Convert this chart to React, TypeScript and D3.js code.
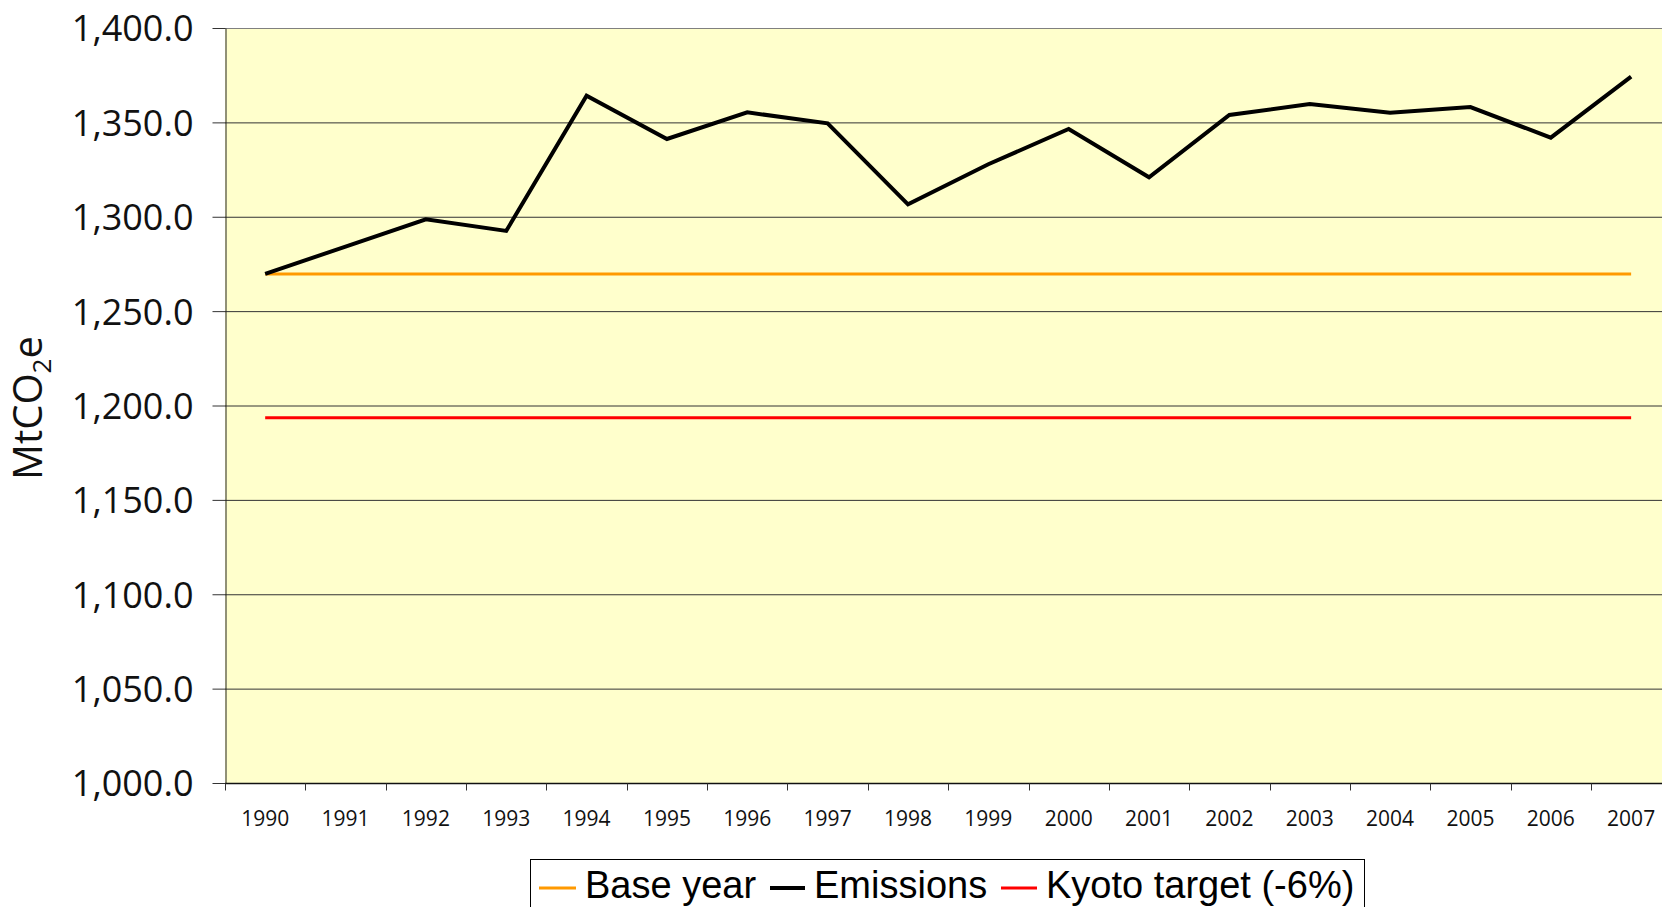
import React, { useRef, useEffect } from "react";
import * as d3 from "d3";

// data
const years = [
  "1990", "1991", "1992", "1993", "1994", "1995", "1996", "1997", "1998",
  "1999", "2000", "2001", "2002", "2003", "2004", "2005", "2006", "2007",
];
const emissions = [
  1269.7, 1284.2, 1298.6, 1292.5, 1364.1, 1341.2, 1355.3, 1349.5, 1306.6,
  1327.8, 1346.5, 1320.9, 1353.9, 1359.7, 1355.1, 1358.1, 1341.9, 1374.2,
];
const baseYear = 1269.7;
const kyotoTarget = 1193.5;
const yTicks = [1000, 1050, 1100, 1150, 1200, 1250, 1300, 1350, 1400];

const App = () => {
  const svgRef = useRef<SVGSVGElement>(null);

  useEffect(() => {
    const svg = d3.select(svgRef.current);
    svg.selectAll("*").remove();
    const width = 1662;
    const left = 225;
    const top = 28;
    const bottom = 783;

    const x = d3.scaleBand().domain(years).range([left, left + 18 * 80.35]);
    const y = d3.scaleLinear().domain([1000, 1400]).range([bottom, top]);
    const cx = (d: string) => (x(d) as number) + x.bandwidth() / 2;

    // plot background
    svg.append("rect")
      .attr("x", left).attr("y", top)
      .attr("width", width - left).attr("height", bottom - top)
      .attr("fill", "#FFFFCC");

    // gridlines
    svg.append("g")
      .selectAll("line")
      .data(yTicks.filter((d) => d > 1000))
      .enter()
      .append("line")
      .attr("x1", left).attr("x2", width)
      .attr("y1", (d) => y(d) + 0.5).attr("y2", (d) => y(d) + 0.5)
      .attr("stroke", (d) => (d === 1400 ? "#808080" : "#333"))
      .attr("stroke-width", 1);

    // y axis
    const yAxis = svg.append("g")
      .attr("transform", `translate(${left + 0.5},0)`)
      .call(d3.axisLeft(y).tickValues(yTicks).tickSize(13).tickSizeOuter(0).tickFormat(d3.format(",.1f")));
    yAxis.select(".domain").attr("stroke", "#222");
    yAxis.selectAll(".tick line").attr("stroke", "#333");
    yAxis.selectAll("text")
      .attr("x", -32)
      .attr("dy", "0.36em")
      .attr("fill", "#111")
      .style("font-family", "'Open Sans', sans-serif")
      .style("font-size", "36px");

    // x axis
    const xAxis = svg.append("g")
      .attr("transform", `translate(0,${bottom + 0.5})`)
      .call(d3.axisBottom(x).tickSize(0).tickSizeOuter(0));
    xAxis.select(".domain").remove();
    xAxis.append("line")
      .attr("x1", left).attr("x2", width)
      .attr("stroke", "#111").attr("stroke-width", 1.5);
    xAxis.selectAll(".tick text")
      .attr("y", 42)
      .attr("dy", "0")
      .attr("fill", "#111")
      .style("font-family", "'Open Sans', sans-serif")
      .style("font-size", "21px");
    xAxis.append("g")
      .selectAll("line")
      .data(years)
      .enter()
      .append("line")
      .attr("x1", (d) => Math.round(x(d) as number) + 0.5)
      .attr("x2", (d) => Math.round(x(d) as number) + 0.5)
      .attr("y1", 0).attr("y2", 7)
      .attr("stroke", "#333");

    // base year and kyoto lines
    const flat = (v: number, color: string) =>
      svg.append("line")
        .attr("x1", cx(years[0])).attr("x2", cx(years[years.length - 1]))
        .attr("y1", y(v)).attr("y2", y(v))
        .attr("stroke", color).attr("stroke-width", 3);
    flat(baseYear, "#FF9900");
    flat(kyotoTarget, "#FF0000");

    // emissions
    const line = d3.line<number>()
      .x((d, i) => cx(years[i]))
      .y((d) => y(d));
    svg.append("path")
      .datum(emissions)
      .attr("d", line)
      .attr("fill", "none")
      .attr("stroke", "#000")
      .attr("stroke-width", 4)
      .attr("stroke-linejoin", "miter");

    // y title
    const title = svg.append("text")
      .attr("transform", "translate(42,408) rotate(-90)")
      .attr("text-anchor", "middle")
      .attr("fill", "#111")
      .style("font-family", "'Open Sans', sans-serif")
      .style("font-size", "40px");
    title.append("tspan").text("MtCO");
    title.append("tspan").attr("dy", 9).style("font-size", "26px").text("2");
    title.append("tspan").attr("dy", -9).text("e");

    // legend
    const lg = svg.append("g");
    lg.append("rect")
      .attr("x", 530.5).attr("y", 859.5)
      .attr("width", 834).attr("height", 80)
      .attr("fill", "#fff").attr("stroke", "#000");
    const items = [
      { label: "Base year", color: "#FF9900", x1: 539, x2: 576, tx: 585, w: 3 },
      { label: "Emissions", color: "#000000", x1: 770, x2: 805, tx: 814, w: 4 },
      { label: "Kyoto target (-6%)", color: "#FF0000", x1: 1001, x2: 1037, tx: 1046, w: 3 },
    ];
    items.forEach((it) => {
      lg.append("line")
        .attr("x1", it.x1).attr("x2", it.x2)
        .attr("y1", 888).attr("y2", 888)
        .attr("stroke", it.color).attr("stroke-width", it.w);
      lg.append("text")
        .attr("x", it.tx).attr("y", 898)
        .attr("fill", "#000")
        .style("font-family", "'Liberation Sans', Arial, sans-serif")
        .style("font-size", "38px")
        .text(it.label);
    });
  }, []);

  return (
    <svg
      ref={svgRef}
      width={1662}
      height={907}
      style={{ position: "fixed", left: 0, top: 0, background: "#fff", display: "block" }}
    ></svg>
  );
};

export default App;
